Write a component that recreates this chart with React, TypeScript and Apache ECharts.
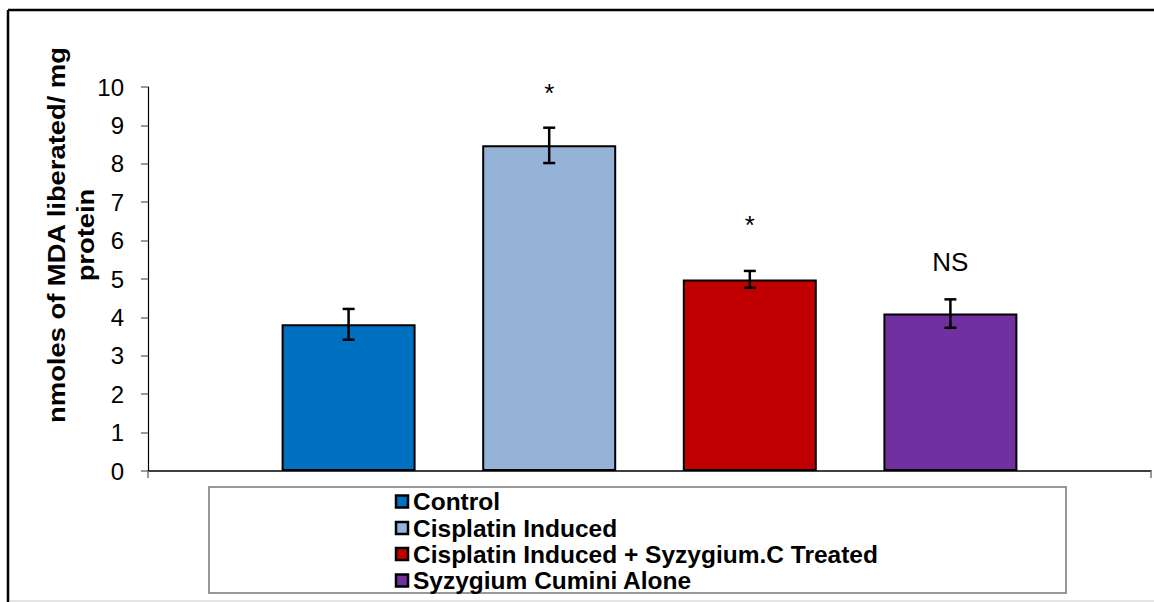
import React, { useEffect, useRef } from "react";
import * as echarts from "echarts";

// ---- data ----
const groups = [
  "Control",
  "Cisplatin Induced",
  "Cisplatin Induced + Syzygium.C Treated",
  "Syzygium Cumini Alone",
];
const positions = [1, 2, 3, 4];
const means = [3.82, 8.48, 4.99, 4.1];
const errors = [0.4, 0.46, 0.22, 0.37];
const marks = ["", "*", "*", "NS"];
const markLevels = [0, 9.84, 6.41, 5.44];
const colors = ["#0070C0", "#95B3D7", "#C00000", "#7030A0"];
const yMin = 0;
const yMax = 10;
const yStep = 1;
const yTitle = "nmoles of MDA liberated/ mg\nprotein";

const FONT = "'Liberation Sans', Arial, Helvetica, sans-serif";

export default function App() {
  const ref = useRef<HTMLDivElement>(null);

  useEffect(() => {
    if (!ref.current) return;
    const chart = echarts.init(ref.current, null, { renderer: "svg" });

    const barSeries = groups.map((name, i) => ({
      type: "bar",
      name,
      data: [[positions[i], means[i]]],
      barWidth: 134,
      barGap: "-100%",
      itemStyle: { color: colors[i], borderColor: "#000", borderWidth: 2 },
      z: 2,
    }));

    const errSeries = {
      type: "custom",
      name: "err",
      clip: false,
      z: 5,
      encode: { x: 0, y: 1 },
      data: means.map((m, i) => [positions[i], m, errors[i], markLevels[i]]),
      renderItem: (params: any, api: any) => {
        const x = api.value(0);
        const m = api.value(1);
        const e = api.value(2);
        const top = api.coord([x, m + e]);
        const bot = api.coord([x, m - e]);
        const cap = 6;
        const ls = { stroke: "#000", lineWidth: 2.5 };
        const children: any[] = [
          { type: "line", shape: { x1: top[0], y1: top[1], x2: bot[0], y2: bot[1] }, style: ls },
          { type: "line", shape: { x1: top[0] - cap, y1: top[1], x2: top[0] + cap, y2: top[1] }, style: ls },
          { type: "line", shape: { x1: bot[0] - cap, y1: bot[1], x2: bot[0] + cap, y2: bot[1] }, style: ls },
        ];
        const txt = marks[params.dataIndex];
        if (txt) {
          const p = api.coord([x, api.value(3)]);
          children.push({
            type: "text",
            x: p[0],
            y: p[1],
            style: {
              text: txt,
              fontSize: 26,
              fontFamily: FONT,
              fill: "#000",
              align: "center",
              verticalAlign: "middle",
              textAlign: "center",
              textVerticalAlign: "middle",
            },
          });
        }
        return { type: "group", children };
      },
    };

    const legendItems: any[] = [];
    const legendRowY = [501.5, 528, 554, 580.5];
    groups.forEach((name, i) => {
      legendItems.push({
        type: "rect",
        shape: { x: 396, y: legendRowY[i] - 6, width: 12, height: 12 },
        style: { fill: colors[i], stroke: "#000", lineWidth: 2.5 },
      });
      legendItems.push({
        type: "text",
        x: 413,
        y: legendRowY[i],
        style: {
          text: name,
          fontSize: 24.5,
          fontWeight: "bold",
          fontFamily: FONT,
          fill: "#000",
          align: "left",
          verticalAlign: "middle",
          textAlign: "left",
          textVerticalAlign: "middle",
        },
      });
    });

    chart.setOption({
      animation: false,
      backgroundColor: "#fff",
      grid: { left: 148, right: 3, top: 87, bottom: 131, containLabel: false },
      xAxis: {
        type: "value",
        min: 0,
        max: 5,
        interval: 5,
        axisLine: { show: true, lineStyle: { color: "#000", width: 1.5 } },
        axisTick: { show: true, length: 7, lineStyle: { color: "#777", width: 1.5 } },
        axisLabel: { show: false },
        splitLine: { show: false },
      },
      yAxis: {
        type: "value",
        min: yMin,
        max: yMax,
        interval: yStep,
        axisLine: { show: true, lineStyle: { color: "#000", width: 1.2 } },
        axisTick: { show: true, length: 7, lineStyle: { color: "#777", width: 1.5 } },
        axisLabel: { fontSize: 24, color: "#000", fontFamily: FONT, margin: 24 },
        splitLine: { show: false },
      },
      series: [...barSeries, errSeries],
      graphic: [
        { type: "line", shape: { x1: 8, y1: 10, x2: 8, y2: 602 }, style: { stroke: "#000", lineWidth: 2.5 } },
        { type: "line", shape: { x1: 8, y1: 10, x2: 1154, y2: 10 }, style: { stroke: "#000", lineWidth: 2.5 } },
        { type: "line", shape: { x1: 10, y1: 601, x2: 1154, y2: 601 }, style: { stroke: "#e4e4e4", lineWidth: 2 } },
        {
          type: "text",
          x: 71,
          y: 235,
          rotation: Math.PI / 2,
          scaleX: 1.14,
          style: {
            text: yTitle,
            fontSize: 24,
            fontWeight: "bold",
            fontFamily: FONT,
            fill: "#000",
            lineHeight: 29,
            align: "center",
            verticalAlign: "middle",
            textAlign: "center",
            textVerticalAlign: "middle",
          },
        },
        {
          type: "rect",
          shape: { x: 209, y: 487, width: 857, height: 106 },
          style: { fill: "#fff", stroke: "#777", lineWidth: 1.5 },
        },
        ...legendItems,
      ],
    });

    return () => chart.dispose();
  }, []);

  return (
    <div
      ref={ref}
      style={{ position: "fixed", left: 0, top: 0, width: 1154, height: 602, background: "#fff" }}
    />
  );
}
